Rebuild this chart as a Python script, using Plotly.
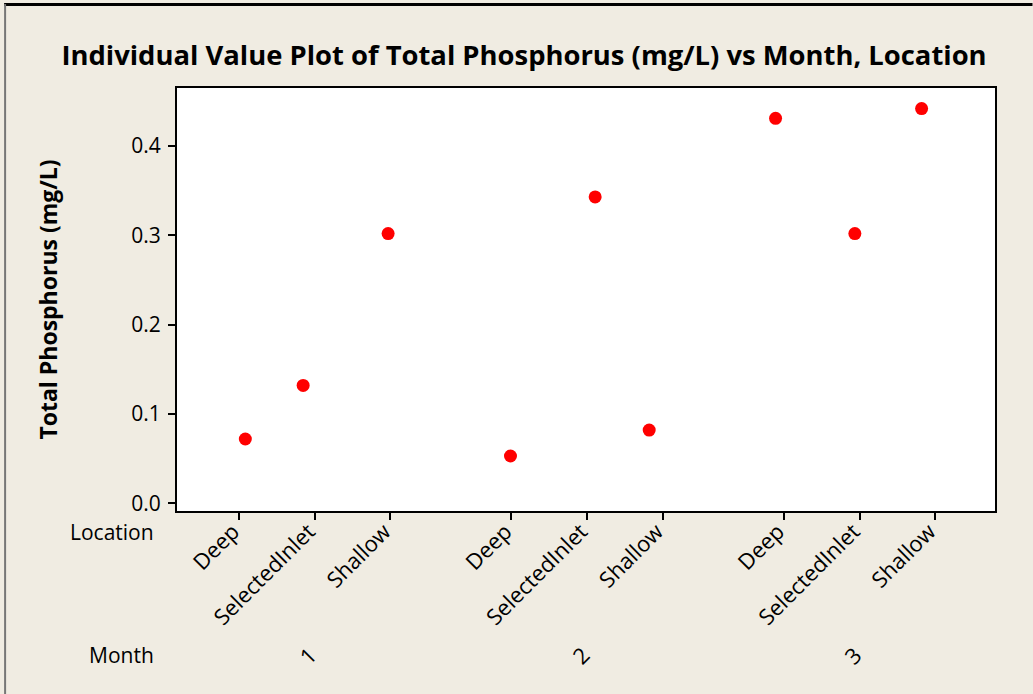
import plotly.graph_objects as go

# ---- data ----
months = ["1", "2", "3"]
locations = ["Deep", "SelectedInlet", "Shallow"]
phosphorus = [
    [0.072, 0.132, 0.302],   # Month 1
    [0.053, 0.343, 0.082],   # Month 2
    [0.431, 0.302, 0.442],   # Month 3
]
jitter = [
    [0.083, -0.153, -0.03],
    [-0.013, 0.106, -0.18],
    [-0.11, -0.062, -0.18],
]
y_ticks = [0.0, 0.1, 0.2, 0.3, 0.4]

# ---- layout constants ----
W, H = 1033, 694
L, R, T, B = 177, 995.5, 88, 511
GROUP_STEP = 3.6
FONT = "Open Sans"
BG = "#F0ECE2"

def px_x(p):
    return (p - L) / (R - L)

def px_y(p):
    return (B - p) / (B - T)

tickvals, ticktext, xs, ys = [], [], [], []
for gi, m in enumerate(months):
    for li, loc in enumerate(locations):
        pos = gi * GROUP_STEP + li
        tickvals.append(pos)
        ticktext.append(loc)
        xs.append(pos + jitter[gi][li])
        ys.append(phosphorus[gi][li])

fig = go.Figure()
fig.add_trace(go.Scatter(
    x=xs, y=ys, mode="markers",
    marker=dict(color="#FF0000", size=13, line=dict(width=0)),
    showlegend=False, hoverinfo="y",
))

axis_common = dict(
    showline=True, linecolor="black", linewidth=2, mirror=True,
    ticks="outside", ticklen=7, tickwidth=2, tickcolor="black",
    showgrid=False, zeroline=False,
)

fig.update_layout(
    width=W, height=H,
    margin=dict(l=L, r=W - R, t=T, b=H - B, pad=0),
    paper_bgcolor=BG, plot_bgcolor="white",
    font=dict(family=FONT, color="black"),
    title=dict(
        text="<b>Individual Value Plot of Total Phosphorus (mg/L) vs Month, Location</b>",
        x=524 / W, xanchor="center", xref="container",
        y=1 - 55 / H, yanchor="middle", yref="container",
        font=dict(family=FONT, size=27.4, color="black"),
    ),
    xaxis=dict(
        **axis_common,
        range=[-0.82, 9.99],
        tickmode="array", tickvals=tickvals, ticktext=ticktext,
        tickangle=-45,
        ticklabelshift=-6,
        ticklabelstandoff=-10,
        tickfont=dict(family=FONT, size=22, color="black"),
    ),
    yaxis=dict(
        **axis_common,
        range=[-0.0086, 0.465],
        tickmode="array", tickvals=y_ticks,
        ticktext=[f"{v:.1f}" for v in y_ticks],
        ticklabelstandoff=3,
        tickfont=dict(family=FONT, size=21, color="black"),
        title=dict(text="<b>Total Phosphorus (mg/L)</b>",
                   font=dict(family=FONT, size=23, color="black"),
                   standoff=67),
    ),
)

# row labels
fig.add_annotation(text="Location", xref="paper", yref="paper",
                   x=px_x(156), y=px_y(532), xanchor="right", yanchor="middle",
                   showarrow=False, font=dict(family=FONT, size=21, color="black"))
fig.add_annotation(text="Month", xref="paper", yref="paper",
                   x=px_x(156), y=px_y(655), xanchor="right", yanchor="middle",
                   showarrow=False, font=dict(family=FONT, size=21, color="black"))

# month labels
for gi, m in enumerate(months):
    fig.add_annotation(text=m, xref="x", yref="paper",
                       x=gi * GROUP_STEP + 1, xshift=-7, y=px_y(655),
                       xanchor="center", yanchor="middle", textangle=-45,
                       showarrow=False, font=dict(family=FONT, size=22, color="black"))

# window frame (top and left edges)
fig.add_shape(type="line", xref="paper", yref="paper",
              x0=px_x(4), x1=px_x(W), y0=px_y(4.5), y1=px_y(4.5),
              line=dict(color="black", width=3))
fig.add_shape(type="line", xref="paper", yref="paper",
              x0=px_x(5), x1=px_x(5), y0=px_y(4), y1=px_y(H),
              line=dict(color="#777777", width=2))

fig.write_html("out.html",
               config={"displayModeBar": False},
               post_script="document.body.style.margin='0';document.body.style.overflow='hidden';")
